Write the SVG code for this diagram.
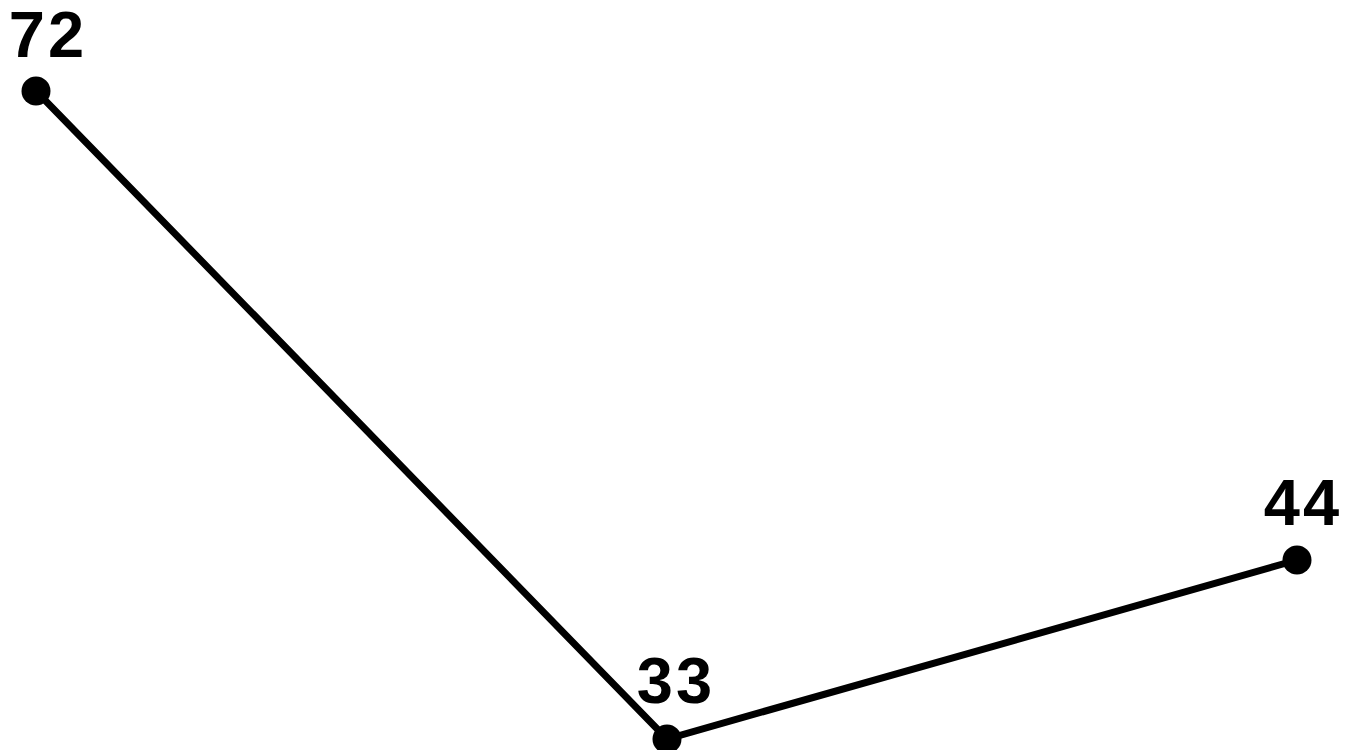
<svg xmlns="http://www.w3.org/2000/svg" width="1358" height="750" viewBox="0 0 1358 750">
<style>
.edge{stroke:#000;stroke-width:7;fill:none;stroke-linecap:round}
.dot{fill:#000}
.lbl{font-family:"Liberation Sans",Arial,sans-serif;font-weight:bold;font-size:65px;fill:#000;text-anchor:middle;letter-spacing:3px}
</style>
<rect width="1358" height="750" fill="#fff"/>
<g id="connectors">
<polyline class="edge" points="36,91 667,739 1297,560"/>
</g>
<g id="node-72">
<circle class="dot" cx="36" cy="91" r="14.5"/>
<text class="lbl" x="48" y="57">72</text>
</g>
<g id="node-33">
<circle class="dot" cx="667" cy="739" r="14.5"/>
<text class="lbl" x="676" y="703">33</text>
</g>
<g id="node-44">
<circle class="dot" cx="1297" cy="560" r="14.5"/>
<text class="lbl" x="1303" y="525">44</text>
</g>
</svg>
